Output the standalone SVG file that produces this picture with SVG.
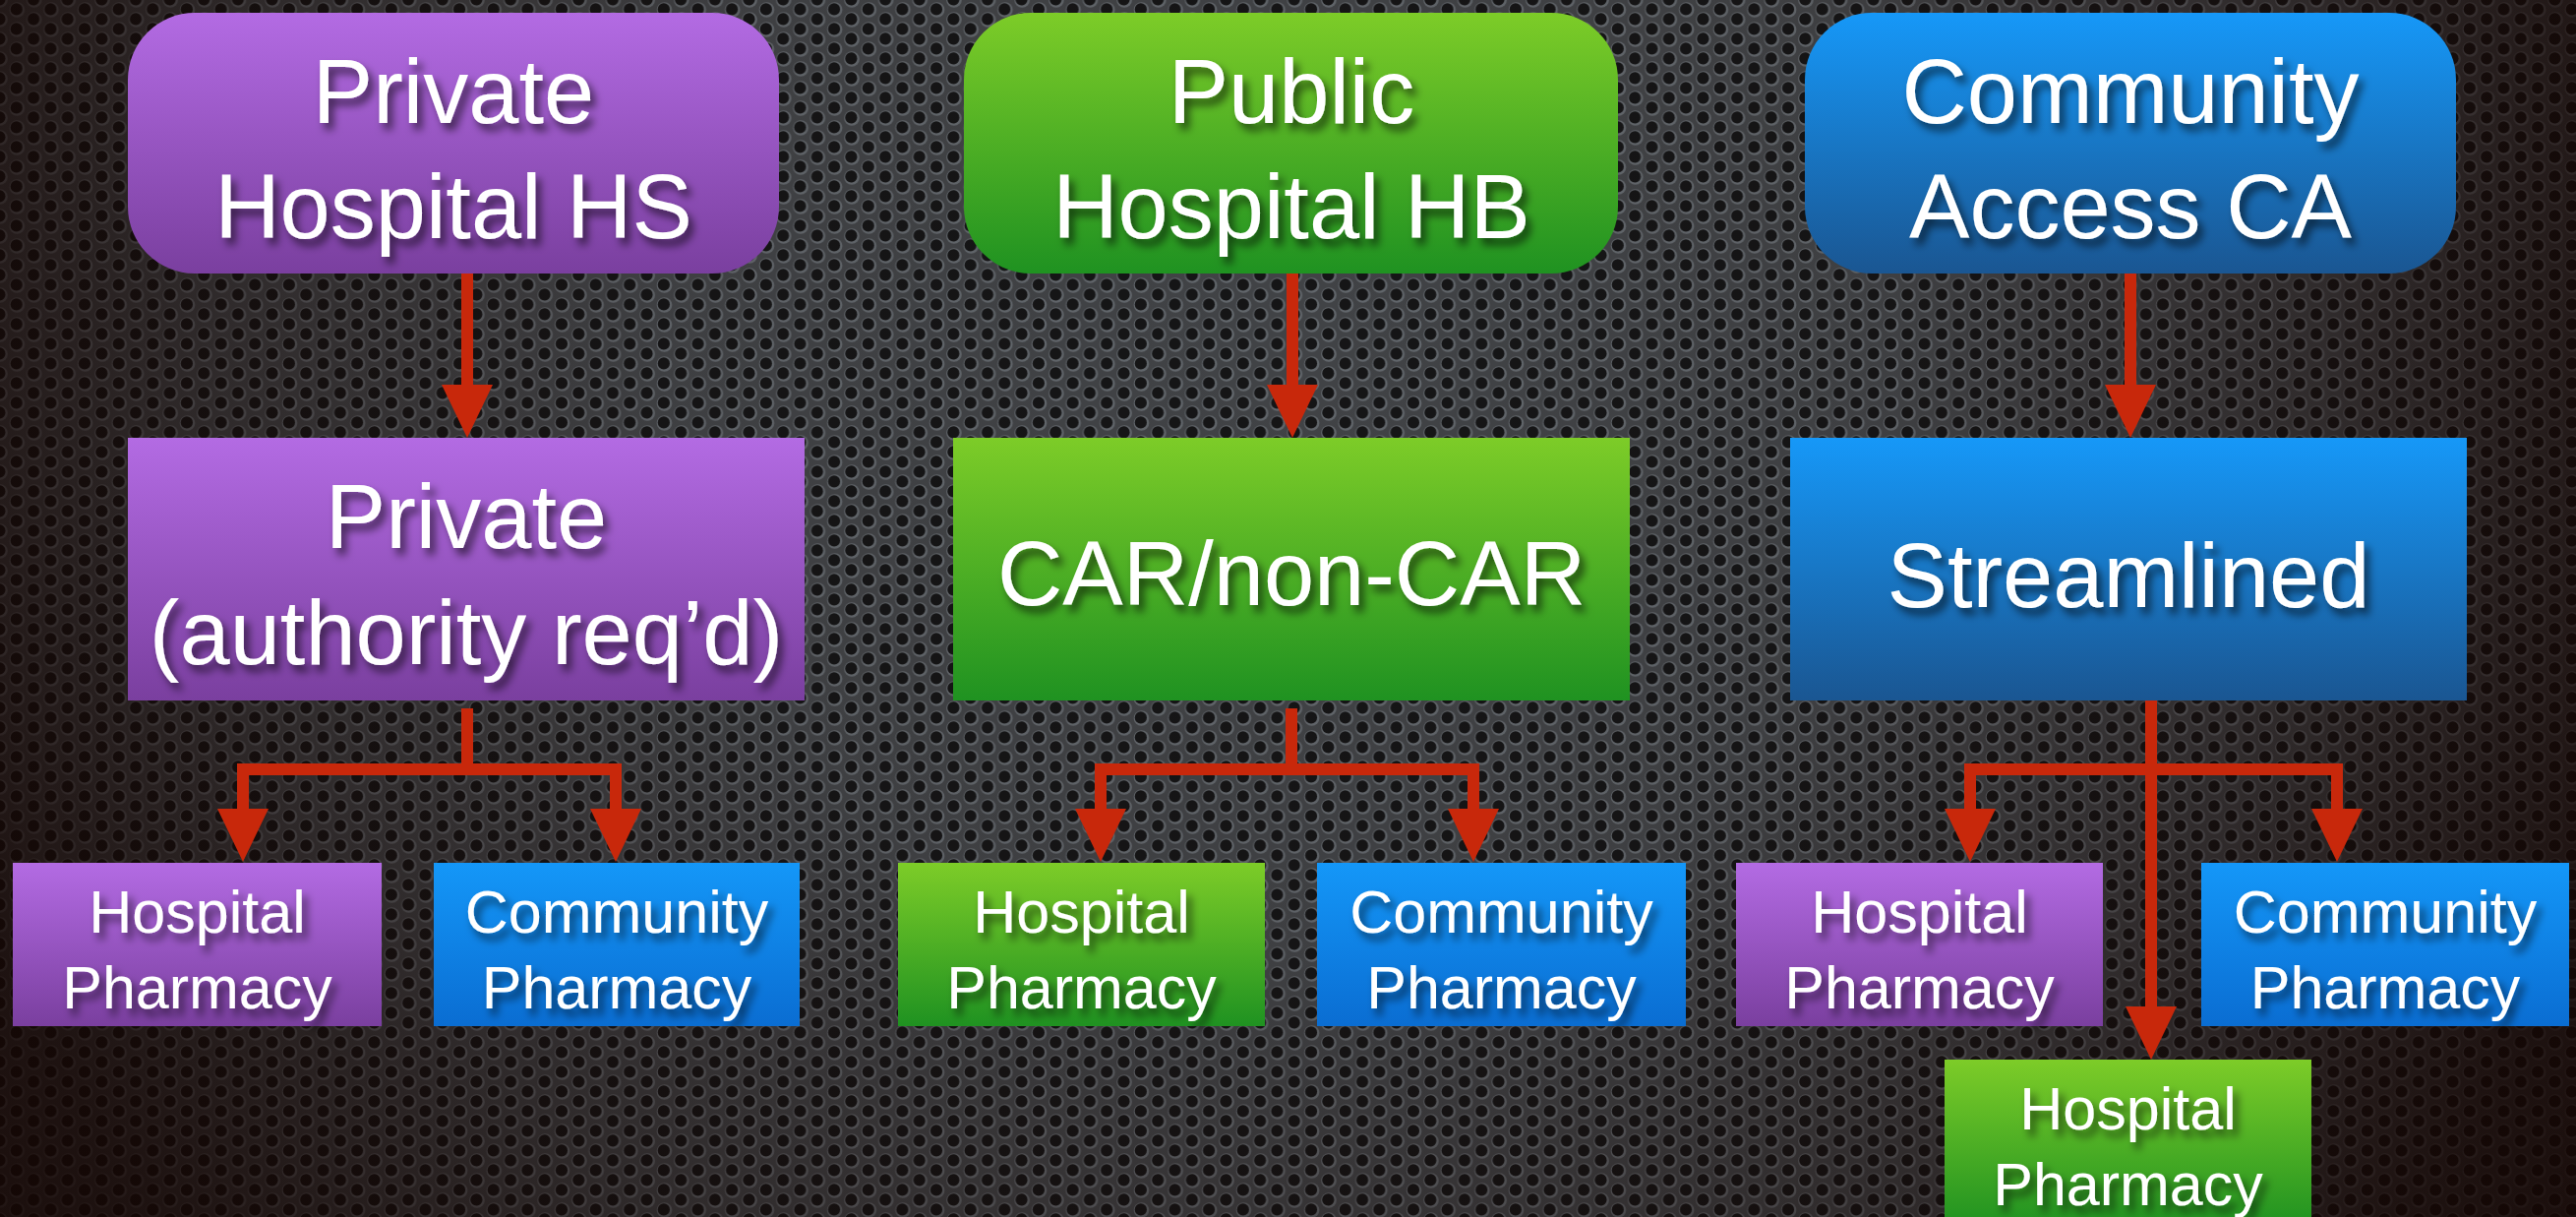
<svg xmlns="http://www.w3.org/2000/svg" width="2619" height="1237" viewBox="0 0 2619 1237">
<defs>
<style>
.t{font-family:"Liberation Sans",Arial,sans-serif;fill:#ffffff;text-anchor:middle}
.big{font-size:92px}
.small{font-size:61px}
.con{fill:none;stroke:#c8280b;stroke-width:12;stroke-linejoin:miter;stroke-linecap:butt}
</style>
<pattern id="holes" patternUnits="userSpaceOnUse" width="34.64" height="20">
<rect width="34.64" height="20" fill="#414346"/>
<g id="hole">
<circle cx="0" cy="0" r="7.8" fill="#62676c"/>
<circle cx="-0.6" cy="-0.6" r="6.1" fill="#151516"/>
</g>
<use href="#hole" x="0" y="20"/>
<use href="#hole" x="34.64" y="0"/>
<use href="#hole" x="34.64" y="20"/>
<use href="#hole" x="17.32" y="10"/>
</pattern>
<radialGradient id="vig" gradientUnits="userSpaceOnUse" cx="1300" cy="350" r="1800">
<stop offset="0" stop-color="#140502" stop-opacity="0"/>
<stop offset="0.35" stop-color="#140502" stop-opacity="0.06"/>
<stop offset="0.6" stop-color="#140502" stop-opacity="0.4"/>
<stop offset="0.8" stop-color="#140502" stop-opacity="0.78"/>
<stop offset="1" stop-color="#140502" stop-opacity="0.93"/>
</radialGradient>
<linearGradient id="gP" x1="0" y1="0" x2="0" y2="1">
<stop offset="0" stop-color="#b36be3"/>
<stop offset="1" stop-color="#7a3f9f"/>
</linearGradient>
<linearGradient id="gG" x1="0" y1="0" x2="0" y2="1">
<stop offset="0" stop-color="#7dcc28"/>
<stop offset="1" stop-color="#1f9221"/>
</linearGradient>
<linearGradient id="gB" x1="0" y1="0" x2="0" y2="1">
<stop offset="0" stop-color="#1698f8"/>
<stop offset="1" stop-color="#1a5692"/>
</linearGradient>
<linearGradient id="gBs" x1="0" y1="0" x2="0" y2="1">
<stop offset="0" stop-color="#1497f8"/>
<stop offset="1" stop-color="#0a6dd2"/>
</linearGradient>
<filter id="ts" x="-10%" y="-30%" width="130%" height="170%">
<feDropShadow dx="5" dy="7" stdDeviation="4" flood-color="#000000" flood-opacity="0.6"/>
</filter>
<marker id="ah" markerUnits="userSpaceOnUse" markerWidth="56" markerHeight="56" viewBox="0 -28 56 56" refX="1" refY="0" orient="auto">
<path d="M0,-26 L54,0 L0,26 Z" fill="#c8280b"/>
</marker>
</defs>

<g id="background">
<rect width="2619" height="1237" fill="url(#holes)"/>
<rect width="2619" height="1237" fill="url(#vig)"/>
</g>

<g id="connectors">
<path class="con" d="M475,277 V392" marker-end="url(#ah)"/>
<path class="con" d="M1314,277 V392" marker-end="url(#ah)"/>
<path class="con" d="M2166,277 V392" marker-end="url(#ah)"/>
<path class="con" d="M475,720 V782 H247 V823" marker-end="url(#ah)"/>
<path class="con" d="M475,720 V782 H626 V823" marker-end="url(#ah)"/>
<path class="con" d="M1313,720 V782 H1119 V823" marker-end="url(#ah)"/>
<path class="con" d="M1313,720 V782 H1498 V823" marker-end="url(#ah)"/>
<path class="con" d="M2187,712 V1024" marker-end="url(#ah)"/>
<path class="con" d="M2190,782 H2003 V823" marker-end="url(#ah)"/>
<path class="con" d="M2184,782 H2376 V823" marker-end="url(#ah)"/>
</g>

<g id="n-private-hospital">
<rect x="130" y="13" width="662" height="265" rx="68" fill="url(#gP)"/>
<g filter="url(#ts)"><text class="t big" x="461" y="125">Private</text><text class="t big" x="461" y="242">Hospital HS</text></g>
</g>
<g id="n-public-hospital">
<rect x="980" y="13" width="665" height="265" rx="68" fill="url(#gG)"/>
<g filter="url(#ts)"><text class="t big" x="1313" y="125">Public</text><text class="t big" x="1313" y="242">Hospital HB</text></g>
</g>
<g id="n-community-access">
<rect x="1835" y="13" width="662" height="265" rx="68" fill="url(#gB)"/>
<g filter="url(#ts)"><text class="t big" x="2166" y="125">Community</text><text class="t big" x="2166" y="242">Access CA</text></g>
</g>

<g id="n-private-authority">
<rect x="130" y="445" width="688" height="267" fill="url(#gP)"/>
<g filter="url(#ts)"><text class="t big" x="474" y="557">Private</text><text class="t big" x="474" y="675">(authority req’d)</text></g>
</g>
<g id="n-car">
<rect x="969" y="445" width="688" height="267" fill="url(#gG)"/>
<g filter="url(#ts)"><text class="t big" x="1313" y="615">CAR/non-CAR</text></g>
</g>
<g id="n-streamlined">
<rect x="1820" y="445" width="688" height="267" fill="url(#gB)"/>
<g filter="url(#ts)"><text class="t big" x="2164" y="617">Streamlined</text></g>
</g>

<g id="n-hs-hospital-pharmacy">
<rect x="13" y="877" width="375" height="166" fill="url(#gP)"/>
<g filter="url(#ts)"><text class="t small" x="200.5" y="948">Hospital</text><text class="t small" x="200.5" y="1025">Pharmacy</text></g>
</g>
<g id="n-hs-community-pharmacy">
<rect x="441" y="877" width="372" height="166" fill="url(#gBs)"/>
<g filter="url(#ts)"><text class="t small" x="627" y="948">Community</text><text class="t small" x="627" y="1025">Pharmacy</text></g>
</g>
<g id="n-hb-hospital-pharmacy">
<rect x="913" y="877" width="373" height="166" fill="url(#gG)"/>
<g filter="url(#ts)"><text class="t small" x="1099.5" y="948">Hospital</text><text class="t small" x="1099.5" y="1025">Pharmacy</text></g>
</g>
<g id="n-hb-community-pharmacy">
<rect x="1339" y="877" width="375" height="166" fill="url(#gBs)"/>
<g filter="url(#ts)"><text class="t small" x="1526.5" y="948">Community</text><text class="t small" x="1526.5" y="1025">Pharmacy</text></g>
</g>
<g id="n-ca-hospital-pharmacy-private">
<rect x="1765" y="877" width="373" height="166" fill="url(#gP)"/>
<g filter="url(#ts)"><text class="t small" x="1951.5" y="948">Hospital</text><text class="t small" x="1951.5" y="1025">Pharmacy</text></g>
</g>
<g id="n-ca-community-pharmacy">
<rect x="2238" y="877" width="374" height="166" fill="url(#gBs)"/>
<g filter="url(#ts)"><text class="t small" x="2425" y="948">Community</text><text class="t small" x="2425" y="1025">Pharmacy</text></g>
</g>
<g id="n-ca-hospital-pharmacy-public">
<rect x="1977" y="1077" width="373" height="170" fill="url(#gG)"/>
<g filter="url(#ts)"><text class="t small" x="2163.5" y="1148">Hospital</text><text class="t small" x="2163.5" y="1225">Pharmacy</text></g>
</g>
</svg>
